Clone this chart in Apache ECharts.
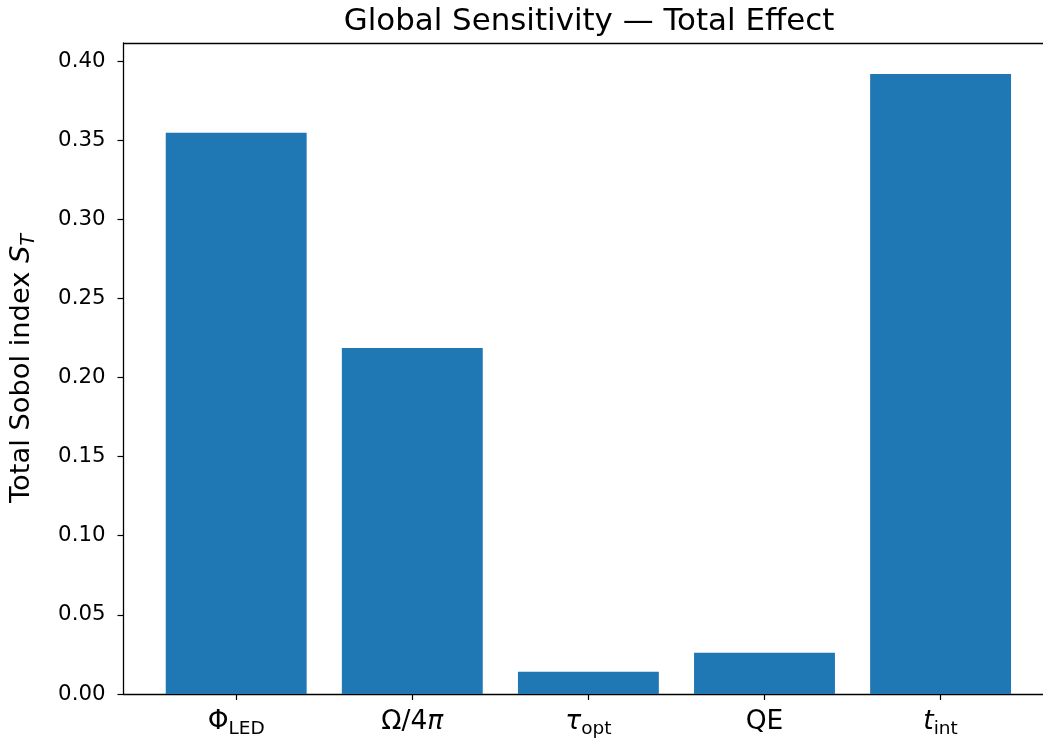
<!DOCTYPE html>
<html>
<head>
<meta charset="utf-8">
<script src="https://cdn.jsdelivr.net/npm/echarts@6/dist/echarts.min.js"></script>
<style>
  html, body { margin: 0; padding: 0; background: #fff; }
  #chart { width: 1043px; height: 742px; }
</style>
</head>
<body>
<div id="chart"></div>
<script>
// Parameters and their total-effect Sobol indices
const categories = ['Φ_LED', 'Ω/4π', 'τ_opt', 'QE', 't_int'];
const totalIndex = [0.3547, 0.2186, 0.0141, 0.0261, 0.3918];
const yTicks = [0.00, 0.05, 0.10, 0.15, 0.20, 0.25, 0.30, 0.35, 0.40];
const xPositions = categories.map((_, i) => i);

// Rich-text labels with subscripts for each parameter
const labelRich = [
  '{m|Φ}{s|LED}',
  '{m|Ω/4}{mi|π}',
  '{mi|τ}{s|opt}',
  '{m|QE}',
  '{mi|t}{s|int}'
];

const FONT = '"DejaVu Sans", sans-serif';
const BLUE = '#1f77b4';

// Axis range: bars span ±0.4 around each slot plus 5% margins
const xMin = -0.64, xMax = 4.64;
const yMax = 0.41137;

const chart = echarts.init(document.getElementById('chart'), null, { renderer: 'canvas' });

chart.setOption({
  animation: false,
  backgroundColor: '#ffffff',
  title: {
    text: 'Global Sensitivity — Total Effect',
    left: 584,
    top: 1,
    textAlign: 'center',
    textStyle: { fontFamily: FONT, fontSize: 30.9, fontWeight: 'normal', color: '#000' }
  },
  grid: { left: 123.5, right: -10.3, top: 43, bottom: 48, containLabel: false, outerBoundsMode: 'none' },
  xAxis: [
    {
      type: 'value',
      min: xMin,
      max: xMax,
      position: 'bottom',
      splitLine: { show: false },
      axisLine: { show: true, onZero: false, lineStyle: { color: '#000', width: 1.3 } },
      axisTick: { show: true, customValues: xPositions, length: 6, lineStyle: { color: '#000', width: 1.2 } },
      axisLabel: {
        customValues: xPositions,
        margin: 11,
        color: '#000',
        formatter: v => labelRich[Math.round(v)],
        rich: {
          m: { fontFamily: FONT, fontSize: 26.5, color: '#000', lineHeight: 34, verticalAlign: 'middle' },
          mi: { fontFamily: FONT, fontSize: 26.5, fontStyle: 'italic', color: '#000', lineHeight: 34, verticalAlign: 'middle' },
          s: { fontFamily: FONT, fontSize: 18.5, color: '#000', lineHeight: 23, verticalAlign: 'bottom' }
        }
      }
    },
    {
      // top frame line
      type: 'value',
      min: xMin,
      max: xMax,
      position: 'top',
      splitLine: { show: false },
      axisLine: { show: true, onZero: false, lineStyle: { color: '#000', width: 1.3 } },
      axisTick: { show: false },
      axisLabel: { show: false }
    }
  ],
  yAxis: {
    type: 'value',
    min: 0,
    max: yMax,
    splitLine: { show: false },
    axisLine: { show: true, onZero: false, lineStyle: { color: '#000', width: 1.3 } },
    axisTick: { show: true, customValues: yTicks, length: 6, lineStyle: { color: '#000', width: 1.2 } },
    axisLabel: {
      customValues: yTicks,
      margin: 18,
      fontFamily: FONT,
      fontSize: 21.3,
      color: '#000',
      formatter: v => v.toFixed(2)
    },
    name: '{a|Total Sobol index }{s|S}{t|T}',
    nameLocation: 'middle',
    nameGap: 85,
    nameRotate: 90,
    nameTextStyle: {
      rich: {
        a: { fontFamily: FONT, fontSize: 27.3, color: '#000', lineHeight: 34, verticalAlign: 'middle' },
        s: { fontFamily: FONT, fontSize: 27.3, fontStyle: 'italic', color: '#000', lineHeight: 34, verticalAlign: 'middle' },
        t: { fontFamily: FONT, fontSize: 19, fontStyle: 'italic', color: '#000', lineHeight: 23, verticalAlign: 'bottom' }
      }
    }
  },
  series: [
    {
      type: 'bar',
      xAxisIndex: 0,
      barWidth: 140.9,
      itemStyle: { color: BLUE },
      data: xPositions.map((x, i) => [x, totalIndex[i]])
    }
  ]
});
</script>
</body>
</html>
